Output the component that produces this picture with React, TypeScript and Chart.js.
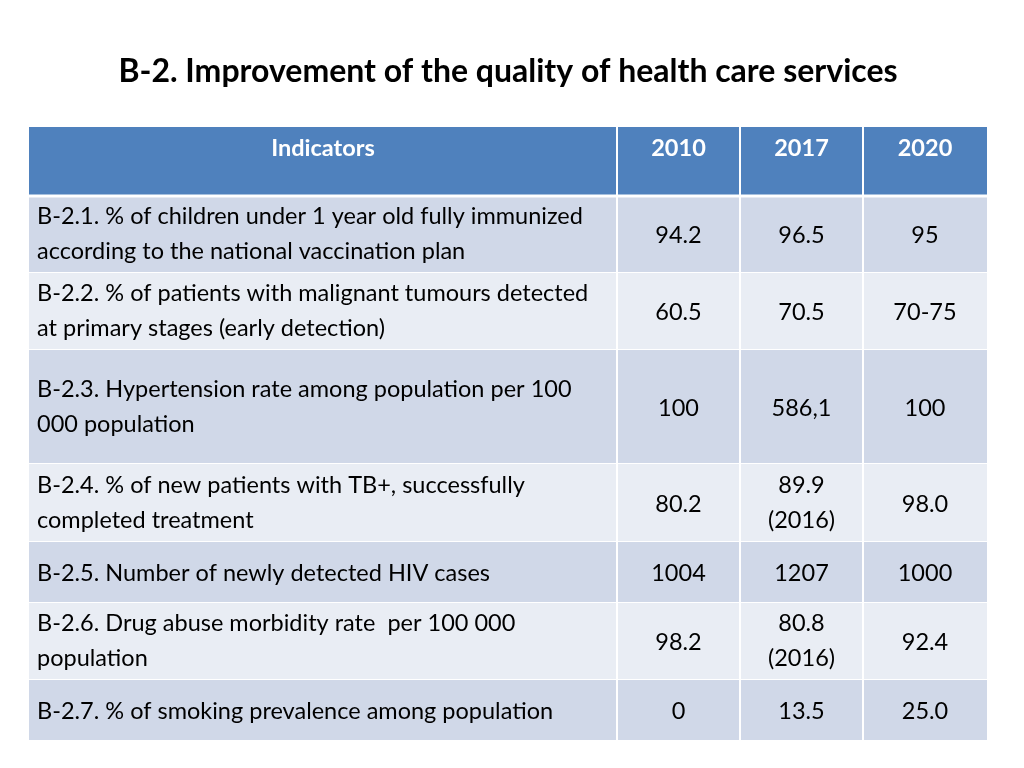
import React, { useEffect, useRef } from "react";
import { Chart, registerables } from "chart.js";

Chart.register(...registerables);

// ---------- data ----------
const titleText = "B-2. Improvement of the quality of health care services";
const headers = ["Indicators", "2010", "2017", "2020"];
const indicators: string[][] = [
  ["B-2.1. % of children under 1 year old fully immunized", "according to the national vaccination plan"],
  ["B-2.2. % of patients with malignant tumours detected", "at primary stages (early detection)"],
  ["B-2.3. Hypertension rate among population per 100", "000 population"],
  ["B-2.4. % of new patients with TB+, successfully", "completed treatment"],
  ["B-2.5. Number of newly detected HIV cases"],
  ["B-2.6. Drug abuse morbidity rate  per 100 000", "population"],
  ["B-2.7. % of smoking prevalence among population"],
];
const values2010: string[][] = [["94.2"], ["60.5"], ["100"], ["80.2"], ["1004"], ["98.2"], ["0"]];
const values2017: string[][] = [["96.5"], ["70.5"], ["586,1"], ["89.9", "(2016)"], ["1207"], ["80.8", "(2016)"], ["13.5"]];
const values2020: string[][] = [["95"], ["70-75"], ["100"], ["98.0"], ["1000"], ["92.4"], ["25.0"]];

// ---------- layout / style ----------
const colWidths = [588, 123, 123, 124];
const rowHeights = [68.5, 77, 77, 114, 78, 61, 77, 60.5]; // header + 7 rows
const FONT = "Lato";
const headerColor = "#4F81BD";
const rowColors = ["#D0D8E8", "#E9EDF4"];

const tablePlugin = {
  id: "tableCells",
  beforeDatasetsDraw(chart: any) {
    const { ctx, scales } = chart;
    const xs = scales.x;
    const ys = scales.y;
    const colEdges = [0];
    colWidths.forEach((w) => colEdges.push(colEdges[colEdges.length - 1] + w));
    const rowEdges = [0];
    rowHeights.forEach((h) => rowEdges.push(rowEdges[rowEdges.length - 1] + h));
    const columns = [indicators, values2010, values2017, values2020];

    ctx.save();
    for (let r = 0; r < rowHeights.length; r++) {
      const y0 = ys.getPixelForValue(rowEdges[r]);
      const y1 = ys.getPixelForValue(rowEdges[r + 1]);
      for (let c = 0; c < colWidths.length; c++) {
        const x0 = xs.getPixelForValue(colEdges[c]);
        const x1 = xs.getPixelForValue(colEdges[c + 1]);
        const gl = c === 0 ? 0 : 1;
        const gr = c === colWidths.length - 1 ? 0 : 1;
        const gt = r === 0 ? 0 : r === 1 ? 2 : 0.5;
        const gb = r === 0 ? 1 : r === rowHeights.length - 1 ? 0 : 0.5;
        ctx.fillStyle = r === 0 ? headerColor : rowColors[(r - 1) % 2];
        ctx.fillRect(x0 + gl, y0 + gt, x1 - x0 - gl - gr, y1 - y0 - gt - gb);

        // text
        ctx.textBaseline = "middle";
        if (r === 0) {
          ctx.fillStyle = "#FFFFFF";
          ctx.font = `bold 23.5px ${FONT}`;
          ctx.textAlign = "center";
          ctx.fillText(headers[c], (x0 + x1) / 2, y0 + 21);
        } else {
          const lines = columns[c][r - 1];
          ctx.fillStyle = "#000000";
          ctx.font = `23.5px ${FONT}`;
          const lh = 35;
          const cy = (y0 + y1) / 2 + (lines.length > 1 ? 0 : 1.5);
          lines.forEach((ln, i) => {
            const ty = cy + (i - (lines.length - 1) / 2) * lh;
            if (c === 0) {
              ctx.textAlign = "left";
              ctx.fillText(ln, x0 + 8, ty);
            } else {
              ctx.textAlign = "center";
              ctx.fillText(ln, (x0 + x1) / 2, ty);
            }
          });
        }
      }
    }
    ctx.restore();
  },
};

export default function App() {
  const ref = useRef<HTMLCanvasElement>(null);
  useEffect(() => {
    if (!ref.current) return;
    const totalW = colWidths.reduce((a, b) => a + b, 0);
    const totalH = rowHeights.reduce((a, b) => a + b, 0);
    const chart = new Chart(ref.current, {
      type: "scatter",
      data: { datasets: [{ data: [] }] },
      options: {
        animation: false,
        responsive: false,
        layout: { padding: { left: 29, right: 37, top: 0, bottom: 28 } },
        scales: {
          x: { type: "linear", min: 0, max: totalW, display: false },
          y: { type: "linear", min: 0, max: totalH, reverse: true, display: false },
        },
        plugins: {
          legend: { display: false },
          tooltip: { enabled: false },
          title: {
            display: true,
            text: titleText,
            color: "#000000",
            font: { family: FONT, size: 32, weight: "bold", lineHeight: 1.2 },
            padding: { top: 52, bottom: 36.6 },
          },
        },
      },
      plugins: [tablePlugin],
    });
    return () => chart.destroy();
  }, []);
  return (
    <div style={{ position: "absolute", left: 0, top: 0, width: 1024, height: 768, background: "#fff" }}>
      <canvas ref={ref} width={1024} height={768} style={{ display: "block" }} />
    </div>
  );
}
